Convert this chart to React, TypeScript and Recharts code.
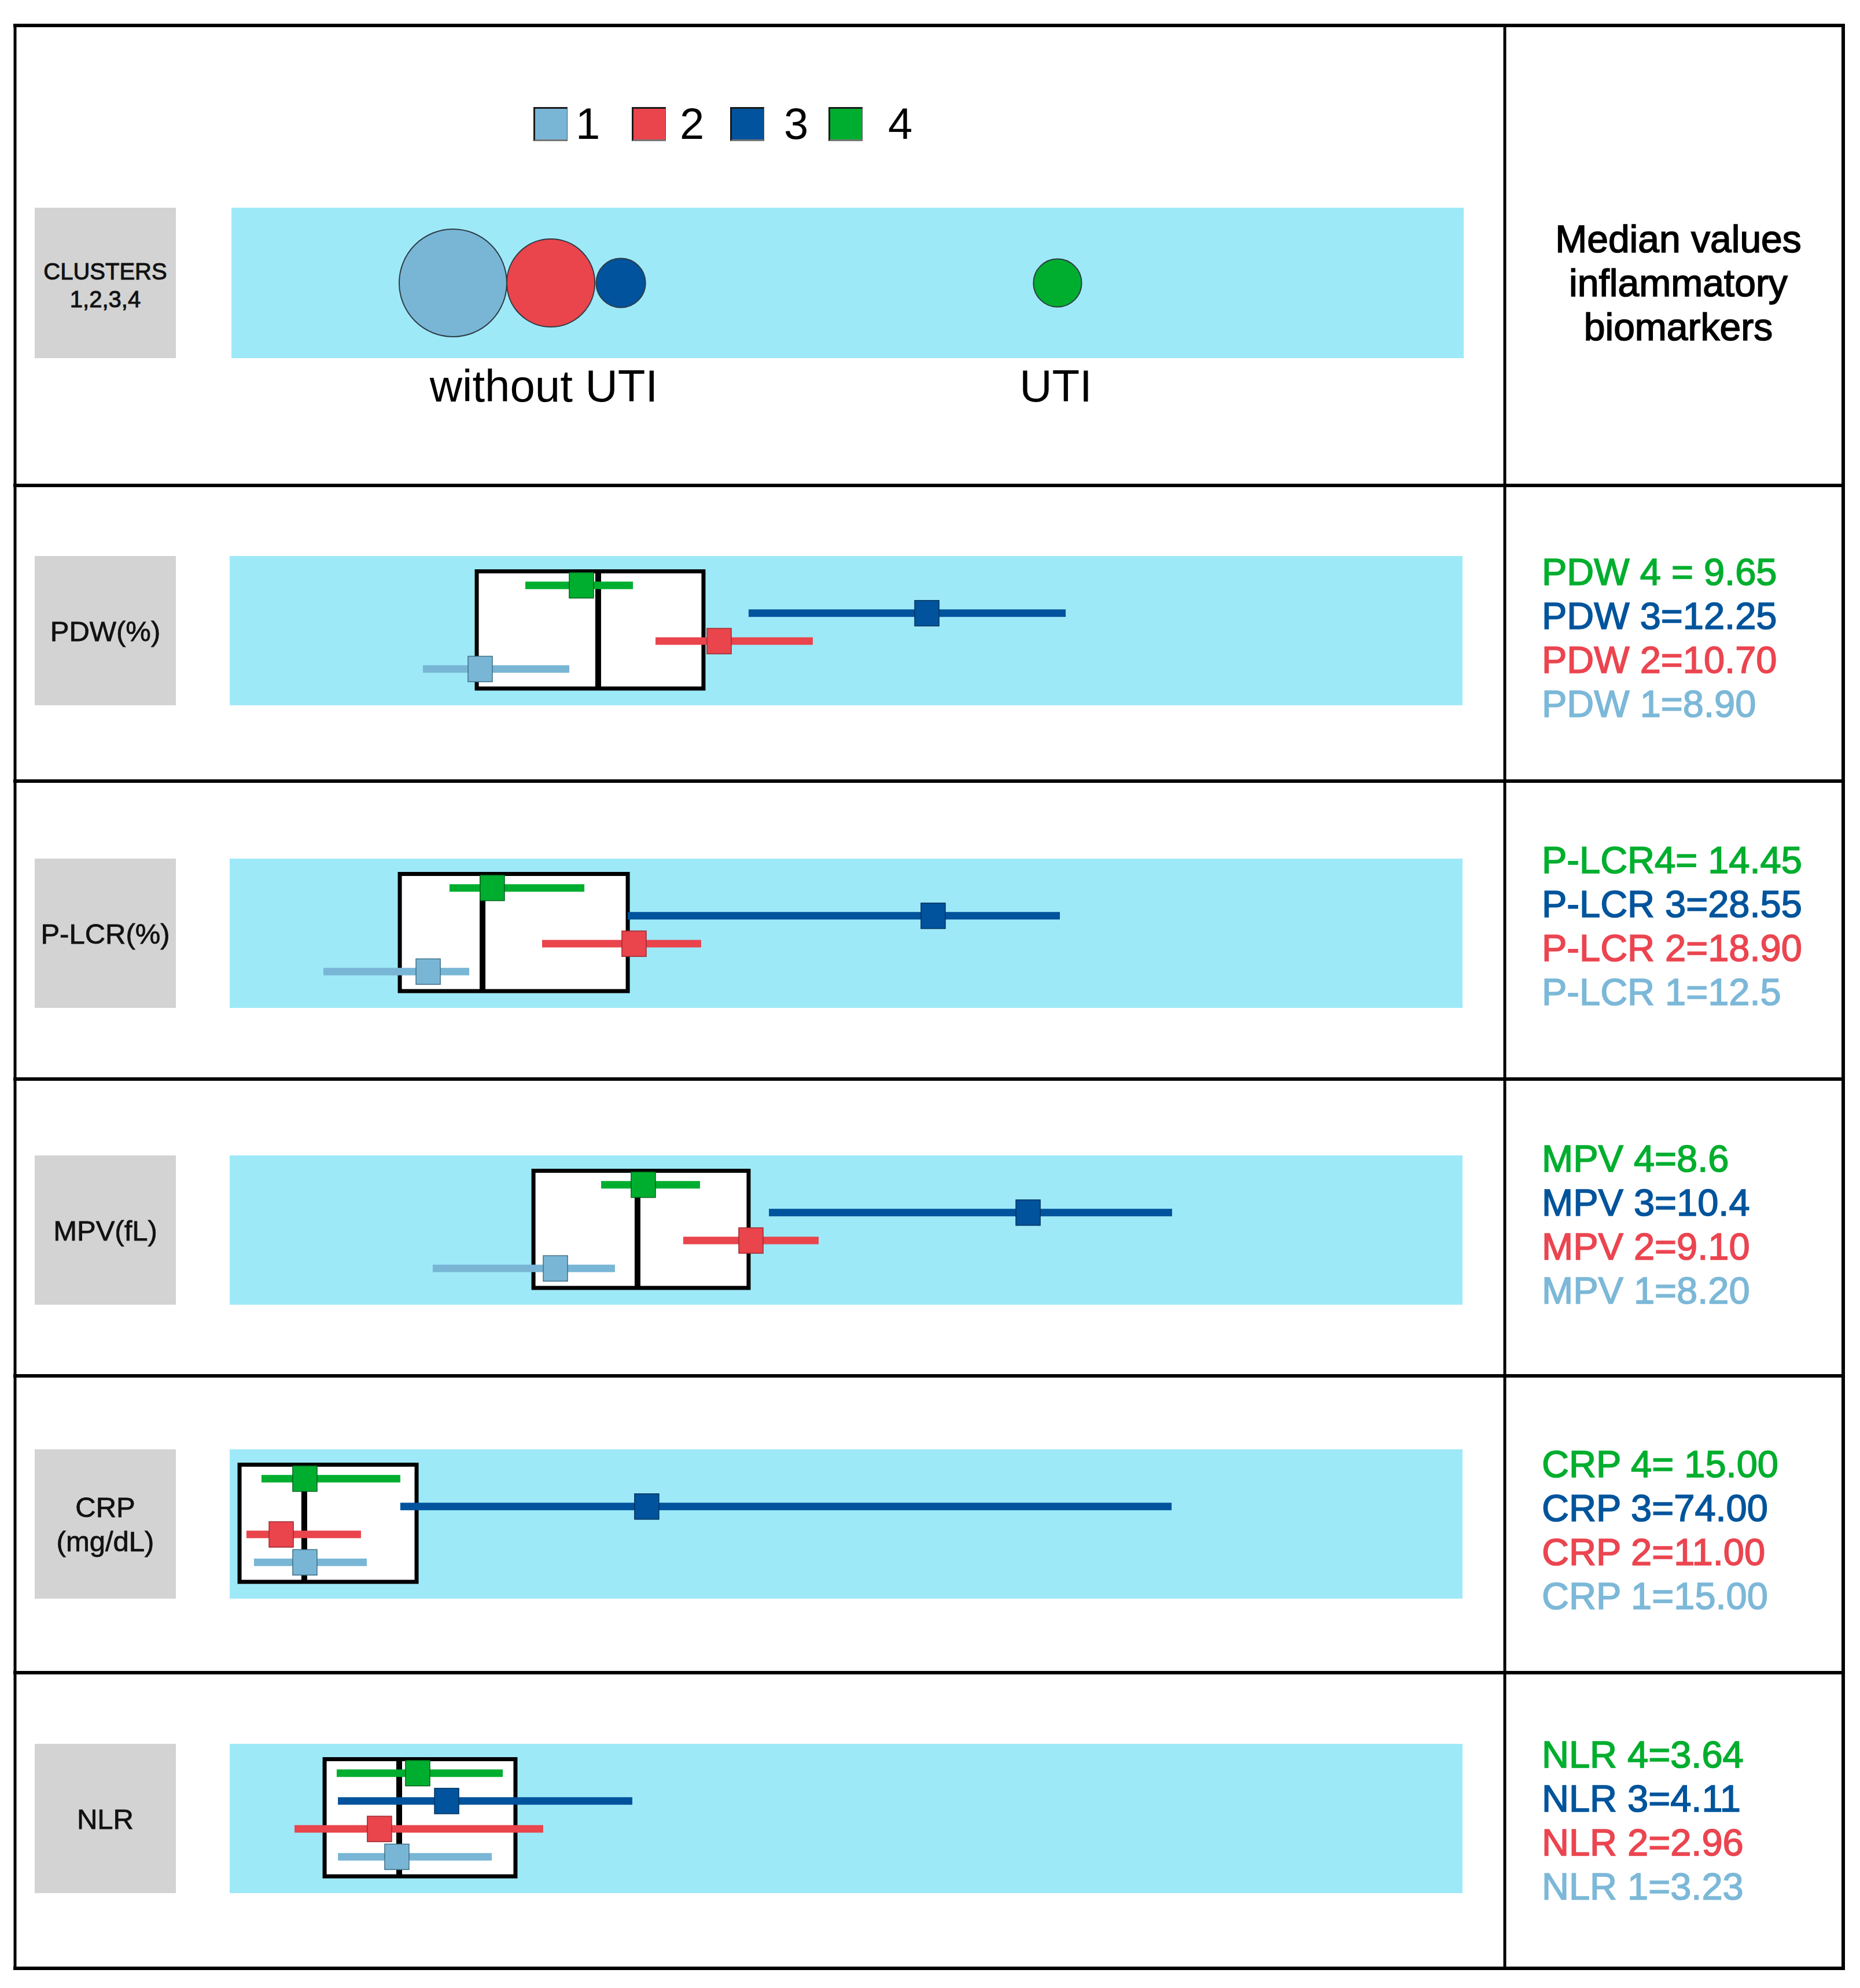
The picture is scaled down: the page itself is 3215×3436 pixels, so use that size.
import React from 'react';
import {
  ScatterChart,
  Scatter,
  XAxis,
  YAxis,
  ZAxis,
  ErrorBar,
  ReferenceArea,
  ReferenceLine,
  Legend,
} from 'recharts';

// ---------------- data ----------------
const clusterNames = ['1', '2', '3', '4'];

// cluster bubbles (schematic position 0-100 along the band, relative area)
const clusterPos = [17.98, 25.92, 31.6, 67.04];
const clusterRelSize = [100, 67, 21, 20];
const groupLabels = ['without UTI', 'UTI'];
const groupLabelPos = [25.35, 66.9];

const markerLabels = [['PDW(%)'], ['P-LCR(%)'], ['MPV(fL)'], ['CRP', '(mg/dL)'], ['NLR']];

// per marker: whisker low / median square / whisker high for clusters 1..4 (schematic scale 0-100)
const pdwLow = [15.67, 34.54, 42.09, 23.98];
const pdwMid = [20.32, 39.7, 56.55, 28.53];
const pdwHigh = [27.55, 47.3, 67.81, 32.71];
const pdwBox = [20.04, 29.89, 38.43];
const pdwText = ['PDW 1=8.90', 'PDW 2=10.70', 'PDW 3=12.25', 'PDW 4 = 9.65'];

const plcrLow = [7.6, 25.34, 32.29, 17.83];
const plcrMid = [16.1, 32.8, 57.06, 21.3];
const plcrHigh = [19.43, 38.24, 67.34, 28.77];
const plcrBox = [13.8, 20.51, 32.29];
const plcrText = ['P-LCR 1=12.5', 'P-LCR 2=18.90', 'P-LCR 3=28.55', 'P-LCR4= 14.45'];

const mpvLow = [16.47, 36.79, 43.74, 30.13];
const mpvMid = [26.42, 42.28, 64.76, 33.55];
const mpvHigh = [31.25, 47.77, 76.44, 38.15];
const mpvBox = [24.64, 33.08, 42.09];
const mpvText = ['MPV 1=8.20', 'MPV 2=9.10', 'MPV 3=10.4', 'MPV 4=8.6'];

const crpLow = [1.97, 1.36, 13.84, 2.58];
const crpMid = [6.1, 4.18, 33.83, 6.1];
const crpHigh = [11.12, 10.65, 76.4, 13.84];
const crpBox = [0.8, 6.05, 15.16];
const crpText = ['CRP 1=15.00', 'CRP 2=11.00', 'CRP 3=74.00', 'CRP 4= 15.00'];

const nlrLow = [8.78, 5.26, 8.78, 8.68];
const nlrMid = [13.56, 12.15, 17.6, 15.25];
const nlrHigh = [21.26, 25.43, 32.66, 22.15];
const nlrBox = [7.7, 13.75, 23.18];
const nlrText = ['NLR 1=3.23', 'NLR 2=2.96', 'NLR 3=4.11', 'NLR 4=3.64'];

const rows = [
  { label: markerLabels[0], low: pdwLow, mid: pdwMid, high: pdwHigh, box: pdwBox, text: pdwText },
  { label: markerLabels[1], low: plcrLow, mid: plcrMid, high: plcrHigh, box: plcrBox, text: plcrText },
  { label: markerLabels[2], low: mpvLow, mid: mpvMid, high: mpvHigh, box: mpvBox, text: mpvText },
  { label: markerLabels[3], low: crpLow, mid: crpMid, high: crpHigh, box: crpBox, text: crpText },
  { label: markerLabels[4], low: nlrLow, mid: nlrMid, high: nlrHigh, box: nlrBox, text: nlrText },
];

// ---------------- style / layout ----------------
const FONT = '"Liberation Sans", Arial, sans-serif';
const clusterColors = ['#79B6D6', '#EA444C', '#00539C', '#00AE2F'];
const clusterEdges = ['#3f6f86', '#9c2a30', '#00325e', '#00601a'];
const textColors = ['#7CB8D8', '#EB4550', '#00549C', '#00AE2E'];
const CYAN = '#9EE9F8';
const GRAY = '#D3D3D3';

const W = 3215;
const H = 3436;
const TABLE_L = 26;
const TABLE_R = 3186;
const DIVIDER_X = 2601;
const rowLines = [44, 839, 1350, 1865, 2378, 2891, 3402];
const BAND_X = 397;
const BAND_W = 2131;
const BAND_H = 258;
const bandTops = [961, 1484, 1997, 2505, 3014];
const textBase0 = [1011, 1509, 2025, 2553, 3055];
const LINE_STEP = 76;
const BOX_Y = [0.3, 4.5];
const LANE_DOMAIN = [-0.3, 5.05];

const squareShape = (i: number) => (props: any) => {
  const { cx, cy } = props;
  if (cx == null || cy == null) return <g />;
  return (
    <rect
      x={cx - 21}
      y={cy - 22}
      width={42}
      height={44}
      fill={clusterColors[i]}
      stroke={clusterEdges[i]}
      strokeWidth={1.5}
    />
  );
};

function MarkerChart({ row, top }: { row: any; top: number }) {
  return (
    <div style={{ position: 'absolute', left: BAND_X, top, width: BAND_W, height: BAND_H, background: CYAN }}>
      <ScatterChart width={BAND_W} height={BAND_H} margin={{ top: 0, right: 0, bottom: 0, left: 0 }}>
        <XAxis type="number" dataKey="x" domain={[0, 100]} hide />
        <YAxis type="number" dataKey="y" domain={LANE_DOMAIN} hide />
        <ReferenceArea
          x1={row.box[0]}
          x2={row.box[2]}
          y1={BOX_Y[0]}
          y2={BOX_Y[1]}
          fill="#ffffff"
          fillOpacity={1}
          stroke="#000000"
          strokeWidth={7}
          ifOverflow="visible"
        />
        <ReferenceLine
          segment={[
            { x: row.box[1], y: BOX_Y[0] },
            { x: row.box[1], y: BOX_Y[1] },
          ]}
          stroke="#000000"
          strokeWidth={10}
          ifOverflow="visible"
        />
        {clusterNames.map((c, i) => (
          <Scatter
            key={c}
            name={c}
            data={[
              {
                x: row.mid[i],
                y: i + 1,
                err: [row.mid[i] - row.low[i], row.high[i] - row.mid[i]],
              },
            ]}
            fill={clusterColors[i]}
            shape={squareShape(i)}
            isAnimationActive={false}
          >
            <ErrorBar
              dataKey="err"
              direction="x"
              width={0}
              strokeWidth={13}
              stroke={clusterColors[i]}
              isAnimationActive={false}
            />
          </Scatter>
        ))}
      </ScatterChart>
    </div>
  );
}

const GroupTick = (props: any) => {
  const { x, y, index } = props;
  return (
    <text x={x} y={y + 75} textAnchor="middle" fontFamily={FONT} fontSize={78} fill="#000">
      {groupLabels[index]}
    </text>
  );
};

const LegendContent = (props: any) => {
  const payload = props.payload || [];
  return (
    <div style={{ display: 'flex', alignItems: 'center', fontFamily: FONT }}>
      {payload.map((e: any, i: number) => (
        <div key={i} style={{ display: 'flex', alignItems: 'center', width: 170, flex: '0 0 170px' }}>
          <div
            style={{
              width: 59,
              height: 59,
              background: e.color,
              boxSizing: 'border-box',
              borderTop: '3px solid #1a1a1a',
              borderLeft: '3px solid #1a1a1a',
              borderBottom: '3px solid #777',
              borderRight: '1px solid #555',
            }}
          />
          <span style={{ fontSize: 76, lineHeight: 1, marginLeft: 14 + 10 * i, color: '#000' }}>{e.value}</span>
        </div>
      ))}
    </div>
  );
};

function ClusterChart() {
  const left = 400;
  const top = 140;
  const width = 2130;
  const height = 620;
  return (
    <div style={{ position: 'absolute', left, top, width, height }}>
      <div style={{ position: 'absolute', left: 0, top: 219, width, height: 260, background: CYAN }} />
      <div style={{ position: 'absolute', left: 0, top: 0 }}>
        <ScatterChart width={width} height={height} margin={{ top: 219, right: 0, bottom: 0, left: 0 }}>
          <XAxis
            type="number"
            dataKey="x"
            domain={[0, 100]}
            ticks={groupLabelPos}
            interval={0}
            axisLine={false}
            tickLine={false}
            tickSize={0}
            tickMargin={0}
            height={141}
            tick={<GroupTick />}
          />
          <YAxis type="number" dataKey="y" domain={[-1, 1]} hide />
          <ZAxis type="number" dataKey="z" domain={[0, 100]} range={[0, Math.PI * 93 * 93]} />
          <Legend
            layout="horizontal"
            verticalAlign="middle"
            align="center"
            content={<LegendContent />}
            wrapperStyle={{ top: 36, left: 522, width: 720, height: 60 }}
          />
          {clusterNames.map((c, i) => (
            <Scatter
              key={c}
              name={c}
              legendType="square"
              data={[{ x: clusterPos[i], y: 0, z: clusterRelSize[i] }]}
              fill={clusterColors[i]}
              stroke="#2f3d46"
              strokeWidth={2}
              isAnimationActive={false}
            />
          ))}
        </ScatterChart>
      </div>
    </div>
  );
}

function StaticLayer() {
  return (
    <svg width={W} height={H} style={{ position: 'absolute', left: 0, top: 0 }}>
      <rect x={0} y={0} width={W} height={H} fill="#ffffff" />
      {/* gray label boxes */}
      <rect x={60} y={359} width={244} height={260} fill={GRAY} />
      <text x={182} y={483} textAnchor="middle" fontFamily={FONT} fontSize={40} fill="#111" stroke="#111" strokeWidth={1}>
        CLUSTERS
      </text>
      <text x={182} y={531} textAnchor="middle" fontFamily={FONT} fontSize={40} fill="#111" stroke="#111" strokeWidth={1}>
        1,2,3,4
      </text>
      {rows.map((r, k) => {
        const cy = bandTops[k] + BAND_H / 2;
        const lines = r.label;
        const first = lines.length === 1 ? cy + 17.5 : cy - 12.5;
        return (
          <g key={k}>
            <rect x={60} y={bandTops[k]} width={244} height={BAND_H} fill={GRAY} />
            {lines.map((t: string, j: number) => (
              <text
                key={j}
                x={182}
                y={first + j * 59}
                textAnchor="middle"
                fontFamily={FONT}
                fontSize={49}
                fill="#111"
                stroke="#111"
                strokeWidth={0.8}
              >
                {t}
              </text>
            ))}
            {[3, 2, 1, 0].map((ci, j) => (
              <text
                key={ci}
                x={2665}
                y={textBase0[k] + j * LINE_STEP}
                fontFamily={FONT}
                fontSize={65}
                fill={textColors[ci]}
                stroke={textColors[ci]}
                strokeWidth={1.6}
              >
                {r.text[ci]}
              </text>
            ))}
          </g>
        );
      })}
      {/* header */}
      {['Median values', 'inflammatory', 'biomarkers'].map((t, j) => (
        <text
          key={t}
          x={2901}
          y={436 + j * 76}
          textAnchor="middle"
          fontFamily={FONT}
          fontSize={66}
          fill="#000"
          stroke="#000"
          strokeWidth={1.6}
        >
          {t}
        </text>
      ))}
      {/* table lines */}
      {rowLines.map((y, k) => (
        <line key={k} x1={TABLE_L - 3} x2={TABLE_R + 3} y1={y} y2={y} stroke="#000" strokeWidth={6} />
      ))}
      <line x1={TABLE_L} x2={TABLE_L} y1={rowLines[0]} y2={rowLines[6]} stroke="#000" strokeWidth={5} />
      <line x1={TABLE_R} x2={TABLE_R} y1={rowLines[0]} y2={rowLines[6]} stroke="#000" strokeWidth={6} />
      <line x1={DIVIDER_X} x2={DIVIDER_X} y1={rowLines[0]} y2={rowLines[6]} stroke="#000" strokeWidth={5} />
    </svg>
  );
}

export default function App() {
  return (
    <div style={{ position: 'absolute', left: 0, top: 0, width: W, height: H, background: '#fff', fontFamily: FONT }}>
      <StaticLayer />
      <ClusterChart />
      {rows.map((r, k) => (
        <MarkerChart key={k} row={r} top={bandTops[k]} />
      ))}
    </div>
  );
}
